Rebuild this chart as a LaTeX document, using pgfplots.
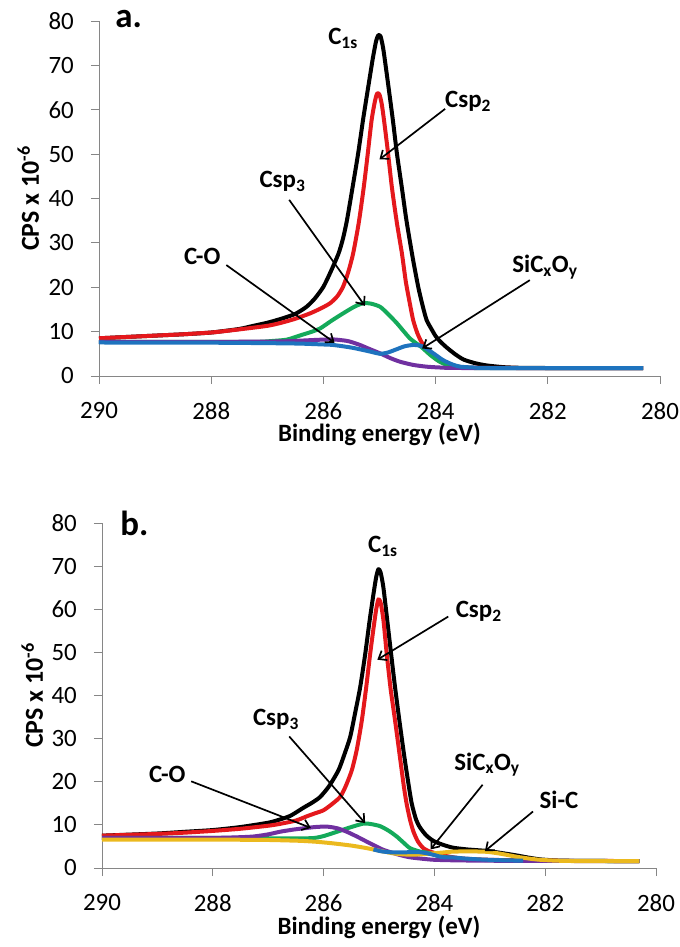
\documentclass[border=0pt]{standalone}
\usepackage{pgfplots}
\pgfplotsset{compat=1.18}
\usepackage{fontspec}
\setmainfont{Carlito}
\usetikzlibrary{arrows.meta}
\definecolor{cred}{RGB}{228,24,28}
\definecolor{cgreen}{RGB}{20,170,90}
\definecolor{cpurple}{RGB}{112,48,160}
\definecolor{cblue}{RGB}{30,115,190}
\definecolor{cyellow}{RGB}{235,185,30}
\definecolor{axgray}{RGB}{134,134,134}
\tikzset{
  ann/.style={font=\bfseries\fontsize{25}{25}\selectfont},
  arr/.style={-{Straight Barb[length=7bp,width=11bp]}, line width=1.7bp, black},
}
\pgfplotsset{
  xpsaxis/.style={
    scale only axis,
    xmin=280, xmax=290, x dir=reverse,
    ymin=0, ymax=80,
    xtick={280,282,...,290}, ytick={0,10,...,80},
    axis x line=bottom, axis y line=left,
    axis line style={-, draw=axgray, line width=0.8bp},
    tick style={draw=axgray, line width=0.8bp},
    tick align=outside, major tick length=8bp,
    /pgf/number format/assume math mode=true,
    ticklabel style={font=\fontsize{25}{25}\selectfont, inner sep=0pt},
    xticklabel style={anchor=north, yshift=-18bp},
    yticklabel style={anchor=east, xshift=-17bp},
    xlabel={\textbf{Binding energy (eV)}},
    ylabel={\textbf{CPS x 10\textsuperscript{-6}}},
    x label style={font=\fontsize{25}{25}\selectfont, inner sep=0pt, at={(axis description cs:0.5,0)}, anchor=base, yshift=-66bp},
    y label style={font=\fontsize{26}{26}\selectfont, inner sep=0pt, at={(axis description cs:-0.126,0.5)}, anchor=center},
    every axis plot/.append style={line width=4bp, line join=round, no markers, smooth, tension=0.4},
    clip=false,
  },
}
\begin{document}
\begin{tikzpicture}
\useasboundingbox (0,0) rectangle (680bp,947bp);
% ---------------- panel a ----------------
\begin{axis}[xpsaxis, at={(99bp,571bp)}, anchor=south west, width=561bp, height=355bp]
\addplot[black] coordinates {
(290,8.5) (289.5,8.8) (289,9.1) (288.5,9.4) (288,9.8) (287.5,10.6) (287.25,11.3) (287,12.0) (286.75,12.9) (286.5,14.0) (286.3,15.6) (286.15,17.5) (286,20.1) (285.87,23.5) (285.73,27.6) (285.65,31.0) (285.58,35.1) (285.48,42.5) (285.38,50.2) (285.29,58.0) (285.2,65.2) (285.12,71.5) (285.06,75.5) (285.02,76.8) (284.98,76.5) (284.93,73.5) (284.84,65.2) (284.76,57.5) (284.69,50.2) (284.6,42.3) (284.52,35.1) (284.41,26.8) (284.31,20.1) (284.23,15.8) (284.16,12.6) (284.07,10.5) (284,9.0) (283.92,7.8) (283.8,6.4) (283.65,4.9) (283.5,3.7) (283.3,2.9) (283.1,2.4) (282.8,2.0) (282.5,1.85) (282,1.8) (280.3,1.8)};
\addplot[cred] coordinates {
(290,8.5) (289.5,8.8) (289,9.1) (288.5,9.4) (288,9.8) (287.84,10.0) (287.5,10.5) (287,11.3) (286.75,12.0) (286.5,12.9) (286.24,14.1) (286.05,15.2) (285.88,16.4) (285.75,18.0) (285.65,20.1) (285.56,23.3) (285.47,27.6) (285.37,34.5) (285.28,42.6) (285.21,50.0) (285.14,57.7) (285.08,62.0) (285.04,63.7) (285,63.4) (284.96,61.3) (284.92,57.7) (284.85,50.5) (284.78,42.6) (284.69,34.5) (284.6,27.6) (284.53,21.2) (284.46,16.4) (284.4,12.6) (284.33,9.8) (284.27,8.1) (284.22,7.0) (284.15,5.8) (284.05,4.4) (283.9,3.1) (283.7,2.3) (283.5,1.95) (283.2,1.85) (282.5,1.8) (280.3,1.8)};
\addplot[cgreen] coordinates {
(290,7.7) (289,7.7) (288,7.7) (287.2,7.7) (287,7.8) (286.9,7.9) (286.65,8.2) (286.4,9.2) (286.2,10.0) (286.06,10.7) (285.85,12.5) (285.65,14.1) (285.45,15.6) (285.29,16.4) (285.15,16.3) (284.99,15.6) (284.85,14.0) (284.69,11.9) (284.57,10.1) (284.46,8.5) (284.35,7.4) (284.25,6.5) (284.1,4.8) (283.95,3.4) (283.8,2.5) (283.6,2.0) (283.3,1.8) (280.3,1.8)};
\addplot[cpurple] coordinates {
(290,7.7) (288,7.7) (287,7.75) (286.6,7.85) (286.35,8.0) (286.1,8.15) (285.83,8.25) (285.6,7.95) (285.5,7.65) (285.35,7.0) (285.2,6.2) (284.99,5.1) (284.8,4.0) (284.63,3.2) (284.4,2.5) (284.16,2.1) (283.9,1.9) (283.5,1.8) (280.3,1.8)};
\addplot[cblue] coordinates {
(290,7.55) (288,7.5) (287,7.4) (286.42,7.3) (286,7.1) (285.83,7.0) (285.5,6.4) (285.2,5.6) (284.99,5.0) (284.85,5.3) (284.7,6.0) (284.55,6.7) (284.4,7.0) (284.3,6.9) (284.22,6.6) (284.05,5.2) (283.87,3.6) (283.7,2.6) (283.56,2.1) (283.3,1.9) (283,1.8) (280.3,1.8)};
\node[font=\bfseries\fontsize{35}{35}\selectfont, anchor=base west] at (axis cs:289.77,78.6) {a.};
\node[ann] at (axis cs:285.65,76.1) {C\textsubscript{1s}};
\node[ann] at (axis cs:283.42,61.8) {Csp\textsubscript{2}};
\draw[arr] (axis cs:283.83,60.2) -- (axis cs:285.0,48.8);
\node[ann] at (axis cs:286.73,43.8) {Csp\textsubscript{3}};
\draw[arr] (axis cs:286.61,39.7) -- (axis cs:285.26,15.8);
\node[ann] at (axis cs:288.16,26.9) {C-O};
\draw[arr] (axis cs:287.73,25.0) -- (axis cs:285.8,7.5);
\node[ann] at (axis cs:282.05,24.6) {SiC\textsubscript{x}O\textsubscript{y}};
\draw[arr] (axis cs:282.32,21.6) -- (axis cs:284.24,6.2);
\end{axis}
% ---------------- panel b ----------------
\begin{axis}[xpsaxis, at={(102bp,79bp)}, anchor=south west, width=554bp, height=345bp]
\addplot[black] coordinates {
(290,7.5) (289,8.0) (288.5,8.4) (288,8.8) (287.5,9.5) (287,10.5) (286.8,11.2) (286.6,12.1) (286.36,14.0) (286.2,15.2) (286.06,16.5) (285.9,19.0) (285.73,22.7) (285.62,26.5) (285.52,30.4) (285.43,36.0) (285.34,41.9) (285.25,49.5) (285.17,57.3) (285.1,63.5) (285.05,67.5) (285.01,69.3) (284.97,68.5) (284.92,65.0) (284.85,57.3) (284.78,49.5) (284.71,41.9) (284.63,34.0) (284.55,26.5) (284.48,20.5) (284.41,15.0) (284.33,11.2) (284.26,9.4) (284.15,7.6) (284.02,6.3) (283.85,5.4) (283.66,4.7) (283.4,4.3) (283.05,3.95) (282.75,3.4) (282.51,2.9) (282.3,2.4) (282.09,2.0) (281.8,1.75) (281.37,1.65) (280.3,1.6)};
\addplot[cred] coordinates {
(290,7.5) (289,7.9) (288.5,8.2) (288,8.6) (287.5,9.1) (287,9.8) (286.8,10.2) (286.5,11.0) (286.3,12.0) (286.15,12.7) (286,13.4) (285.85,14.8) (285.7,16.5) (285.6,19.0) (285.49,22.7) (285.4,27.5) (285.31,34.2) (285.23,42.0) (285.16,49.6) (285.1,55.5) (285.05,60.0) (285.01,62.3) (284.97,61.5) (284.92,57.5) (284.86,49.6) (284.79,41.5) (284.71,34.2) (284.63,26.5) (284.55,18.8) (284.5,14.8) (284.44,11.2) (284.38,8.5) (284.3,6.2) (284.2,4.6) (284.1,3.9) (284,3.5) (283.8,2.8) (283.5,2.2) (283,1.9) (282,1.7) (280.3,1.6)};
\addplot[cgreen] coordinates {
(290,7.0) (288,7.0) (287,6.9) (286.5,6.85) (286.18,6.95) (286,7.4) (285.76,8.4) (285.5,9.5) (285.28,10.3) (285.15,10.2) (284.98,9.7) (284.82,8.6) (284.68,7.3) (284.55,5.8) (284.44,4.6) (284.26,3.8) (284.1,3.5) (283.9,2.7) (283.6,2.2) (283.2,1.9) (282.5,1.7) (280.3,1.6)};
\addplot[cpurple] coordinates {
(290,7.0) (288,7.0) (287.6,7.1) (287.27,7.3) (287,7.8) (286.79,8.4) (286.55,8.9) (286.36,9.2) (286.15,9.5) (285.94,9.6) (285.75,9.2) (285.58,8.4) (285.4,7.3) (285.22,6.1) (285.05,5.0) (284.92,4.2) (284.75,3.5) (284.62,3.0) (284.45,2.5) (284.26,2.2) (284,1.9) (283.5,1.75) (282.5,1.65) (280.3,1.6)};
\addplot[cyellow] coordinates {
(290,6.6) (288,6.6) (287.5,6.55) (287,6.5) (286.42,6.3) (286.1,6.05) (285.82,5.7) (285.5,5.2) (285.22,4.6) (284.95,3.9) (284.74,3.4) (284.55,3.15) (284.38,3.1) (284.2,3.2) (284.02,3.4) (283.84,3.6) (283.66,3.8) (283.35,3.85) (283.05,3.75) (282.8,3.3) (282.51,2.6) (282.3,2.2) (282.09,1.9) (281.8,1.7) (281.37,1.6) (280.3,1.6)};
\addplot[cblue] coordinates {
(285.1,4.3) (284.95,3.85) (284.74,3.6) (284.5,3.65) (284.3,3.7) (284.15,3.45) (284,3.0) (283.85,2.5) (283.66,2.45) (283.45,2.2) (283.2,2.0) (282.8,1.8) (282.4,1.7)};
\node[font=\bfseries\fontsize{35}{35}\selectfont, anchor=base west] at (axis cs:289.73,77.2) {b.};
\node[ann] at (axis cs:284.93,74.6) {C\textsubscript{1s}};
\node[ann] at (axis cs:283.2,59.5) {Csp\textsubscript{2}};
\draw[arr] (axis cs:283.75,58.3) -- (axis cs:285.03,48.3);
\node[ann] at (axis cs:286.86,34.4) {Csp\textsubscript{3}};
\draw[arr] (axis cs:286.62,30.5) -- (axis cs:285.25,10.4);
\node[ann] at (axis cs:288.82,21.6) {C-O};
\draw[arr] (axis cs:288.39,20.1) -- (axis cs:286.23,9.3);
\node[ann] at (axis cs:283.05,24.0) {SiC\textsubscript{x}O\textsubscript{y}};
\draw[arr] (axis cs:283.13,19.3) -- (axis cs:284.07,4.3);
\node[ann] at (axis cs:281.75,15.8) {Si-C};
\draw[arr] (axis cs:282.22,13.1) -- (axis cs:283.09,3.9);
\end{axis}
\end{tikzpicture}
\end{document}
